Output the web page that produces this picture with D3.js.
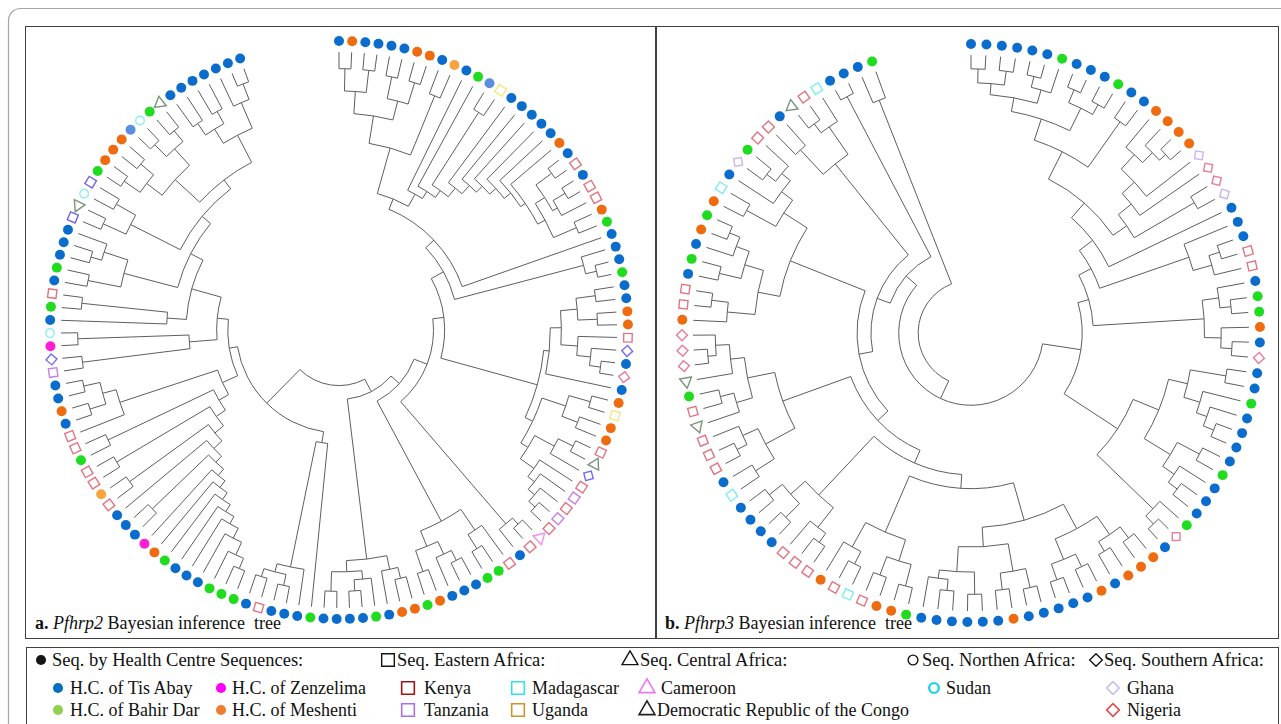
<!DOCTYPE html>
<html>
<head>
<meta charset="utf-8">
<script src="https://cdn.jsdelivr.net/npm/d3@7"></script>
<style>
body { margin: 0; background: #fff; }
text { font-family: "Liberation Serif", "Times New Roman", serif; fill: #111; }
</style>
</head>
<body>
<svg id="chart" width="1281" height="724"></svg>
<script>
// ---- leaf categories, clockwise from the top of each ring ----
var treeATypes = [
  "TA","ME","TA","TA","TA","TA","ME","ME","TA","MEl",
  "TA","BD","TAl","UG","TA","TA","TA","TA","TA","ME",
  "TA","KE","TA","KE","KE","ME","BD","TA","TA","TA",
  "BD","TA","TA","ME","ME","KE","DV","TA","NG","TA",
  "ME","UG","ME","ME","KE","CD","DV","KE","TZ","KE",
  "TZ","KE","CM","KE","TA","KE","BD","BD","TA","TA",
  "TA","ME","BD","ME","ME","TA","BD","TA","TA","TA",
  "TA","BD","TA","TA","TA","KE","TA","BD","BD","BD",
  "TA","TA","TA","BD","ME","ZE","TA","TA","TA","KE",
  "MEl","KE","KE","BD","KE","KE","TA","ME","TA","TA",
  "TZ","DV","ZE","SD","TA","BD","KE","TA","BD","TA",
  "TA","TA","SV","CD","SD","SV","BD","ME","ME","ME",
  "TAl","SD","BD","CD","TA","TA","TA","TA","TA","TA","TA"
];
var treeBTypes = [
  "TA","TA","TA","TA","TA","TA","BD","TA","TA","TA",
  "BD","TA","TA","ME","ME","ME","ME","GH","NG","NG",
  "GH","TA","TA","TA","KE","KE","TA","BD","BD","ME",
  "TA","NG","TA","TA","BD","TA","TA","TA","TA","BD",
  "TA","TA","TA","BD","NG","TA","ME","ME","ME","TA",
  "ME","TA","TA","TA","TA","TA","ME","TA","TA","TA",
  "TA","TA","TA","BD","ME","ME","KE","MG","KE","ME",
  "KE","KE","KE","TA","TA","TA","TA","MG","TA","KE",
  "KE","KE","CD","KE","BD","CD","NG","NG","NG","ME",
  "KE","KE","TA","BD","TA","ME","BD","ME","MG","TA",
  "GH","BD","KE","KE","TA","CD","KE","MG","TA","TA",
  "TA","BD"
];

// ---- topologies: "(child,child)depth", leaves are indices into the type arrays,
// depth is the distance of a node from the root (0) to the tips (1) ----
var aT1 = "((((0,1)0.94,(2,3)0.94)0.86,((4,5)0.93,(6,7)0.93)0.85)0.78,(8,9)0.91)0.68";
var aT2 = "(((20,21)0.95,((22,23)0.95,24)0.9)0.88,(25,26)0.93)0.84";
var aComb = "(10,(11,((12,13)0.93,(14,(15,(16,(17,(18,(19," + aT2 + ")0.81)0.79)0.76)0.73)0.7)0.66)0.62)0.59)0.56";
var aTop = "(" + aT1 + "," + aComb + ")0.51";
var aQ = "(28,(29,30)0.95)0.91";
var aR1 = "((((31,32)0.93,(33,34)0.93)0.86,(35,(36,(37,38)0.95)0.91)0.86)0.8,39)0.76";
var aR2 = "(((40,41)0.94,(42,43)0.92)0.86,(((44,45)0.94,46)0.88,(47,(48,(49,(50,51)0.95)0.92)0.89)0.86)0.8)0.77";
var aRmid = "(" + aR1 + "," + aR2 + ")0.74";
var aP = "((52,53)0.95,54)0.92";
var aC2 = "((55,(56,57)0.93)0.87,(((58,59)0.93,60)0.89,(61,62)0.92)0.84)0.78";
var aC1 = "(((63,64)0.92,65)0.88,((66,(67,68)0.94)0.9,(69,70)0.94)0.87)0.83";
var aRight = "((((((" + aTop + ",27)0.47," + aQ + ")0.43," + aRmid + ")0.38," + aP + ")0.34," + aC2 + ")0.29," + aC1 + ")0.25";
var aD = "(71,(72,((73,74)0.94,(75,76)0.93)0.9)0.87)0.41";
var aE1 = "(95,((96,97)0.94,(98,99)0.94)0.88)0.83";
var aE = "((((((((((((((77,78)0.93,79)0.89,80)0.84,81)0.8,82)0.77,83)0.74,84)0.71,85)0.68,(86,87)0.93)0.65,88)0.62,(89,90)0.93)0.58,(91,92)0.93)0.54,(93,94)0.92)0.5," + aE1 + ")0.46";
var aF = "((100,101)0.93,(102,103)0.94)0.54";
var aG0 = "(104,(105,106)0.93)0.62";
var aH = "((107,108)0.92,((109,110)0.93,111)0.89)0.8";
var aI = "((112,113)0.93,(114,115)0.92)0.84";
var aJ = "(((116,117)0.94,(118,119)0.93)0.87,((120,121)0.94,(122,123)0.93)0.88)0.8";
var aK = "(((124,125)0.9,(126,127)0.9)0.85,(128,(129,130)0.95)0.89)0.79";
var aG = "(" + aG0 + ",(" + aH + ",(" + aI + ",(" + aJ + "," + aK + ")0.68)0.64)0.6)0.55";
var aLeft = "(" + aD + ",(" + aE + ",(" + aF + "," + aG + ")0.44)0.4)0.37";
var treeATopology = "(" + aRight + "," + aLeft + ")0.2";

var bTop = "(((((0,1)0.95,(2,3)0.95)0.9,((4,5)0.95,6)0.91)0.86,((7,8)0.95,(9,10)0.94)0.9)0.81,(11,12)0.93)0.73";
var bMid = "((((13,(14,(15,16)0.95)0.92)0.87,17)0.8,18)0.74,(19,20)0.93)0.68";
var bRS4 = "(" + bTop + "," + bMid + ")0.62";
var bRS3 = "(" + bRS4 + ",21)0.55";
var bGb = "(22,((23,24)0.94,25)0.9)0.83";
var bRS2 = "(" + bRS3 + "," + bGb + ")0.49";
var bGc = "((26,(27,28)0.94)0.9,(29,(30,31)0.94)0.9)0.84";
var bRS = "(" + bRS2 + "," + bGc + ")0.44";
var bLR = "((((32,33)0.93,(34,(35,(36,37)0.94)0.9)0.86)0.8,((38,39)0.93,(40,(41,42)0.93)0.89)0.84)0.73,(43,(44,45)0.95)0.91)0.63";
var bRb = "(" + bRS + "," + bLR + ")0.4";
var bBR = "((((46,47)0.93,(48,49)0.92)0.88,((50,51)0.93,(52,53)0.94)0.88)0.8,(((54,55)0.94,(56,57)0.93)0.87,((58,59)0.94,((60,61)0.93,62)0.89)0.86)0.77)0.7";
var bBL1 = "(((63,64)0.94,(65,66)0.93)0.86,((67,68)0.93,69)0.88)0.78";
var bBL2 = "(((70,71)0.93,72)0.89,((73,74)0.94,(75,76)0.93)0.87)0.8";
var bML = "(((77,78)0.92,((79,80)0.94,81)0.9)0.84,((82,(83,84)0.93)0.88,(85,((86,87)0.95,88)0.92)0.87)0.82)0.72";
var bML2 = "(((89,(90,91)0.94)0.88,((92,93)0.93,(94,(95,96)0.94)0.9)0.85)0.78,((97,98)0.92,(99,((100,101)0.93,102)0.89)0.85)0.8)0.7";
var bTL = "((103,104)0.9,((105,106)0.94,107)0.9)0.78";
var bL6 = "(" + bBR + "," + bBL1 + ")0.56";
var bL5 = "(" + bL6 + "," + bBL2 + ")0.51";
var bL4 = "(" + bL5 + "," + bML + ")0.46";
var bL3 = "(" + bL4 + "," + bML2 + ")0.41";
var bL2 = "(" + bL3 + "," + bTL + ")0.36";
var bL1 = "(" + bL2 + ",(108,109)0.96)0.31";
var treeBTopology = "((" + bRb + "," + bL1 + ")0.26,(110,111)0.9)0.19";

var panelTitles = [["a. ", "Pfhrp2", " Bayesian inference  tree"], ["b. ", "Pfhrp3", " Bayesian inference  tree"]];

var legendHeaders = ["Seq. by Health Centre Sequences:", "Seq. Eastern Africa:", "Seq. Central Africa:", "Seq. Northen Africa:", "Seq. Southern Africa:"];
var legendCodes = ["TA", "BD", "ZE", "ME", "KE", "TZ", "MG", "UG", "CM", "CD", "SD", "GH", "NG"];
var legendLabels = ["H.C. of Tis Abay", "H.C. of Bahir Dar", "H.C. of Zenzelima", "H.C. of Meshenti",
  "Kenya", "Tanzania", "Madagascar", "Uganda", "Cameroon", "Democratic Republic of the Congo",
  "Sudan", "Ghana", "Nigeria"];

// ---- styles ----
var catStyle = {
  TA:  {shape: "circle", color: "#0a6ccc", filled: true},
  TAl: {shape: "circle", color: "#5c8ee0", filled: true},
  BD:  {shape: "circle", color: "#1fdc1f", filled: true},
  ME:  {shape: "circle", color: "#ef6b0f", filled: true},
  MEl: {shape: "circle", color: "#f8a33e", filled: true},
  ZE:  {shape: "circle", color: "#ff1ed2", filled: true},
  KE:  {shape: "square", color: "#e27583"},
  TZ:  {shape: "square", color: "#c97ee6"},
  SV:  {shape: "square", color: "#6f63ec"},
  MG:  {shape: "square", color: "#7deeee"},
  UG:  {shape: "square", color: "#f0e880"},
  CM:  {shape: "triangle", color: "#ef8fef"},
  CD:  {shape: "triangle", color: "#7a9478"},
  SD:  {shape: "circle", color: "#8ef0f0"},
  GH:  {shape: "diamond", color: "#cdb3ee"},
  NG:  {shape: "diamond", color: "#e87d98"},
  DV:  {shape: "diamond", color: "#6f6fee"}
};
var legendColor = {
  TA: "#0070c0", BD: "#92d050", ZE: "#ff00ff", ME: "#ed7d31",
  KE: "#a31515", TZ: "#a870e6", MG: "#33e0e8", UG: "#c8962a",
  CM: "#ee77ee", CD: "#222222", SD: "#22d4e0", GH: "#c9bde9", NG: "#e04a4a"
};
var symbolType = {circle: d3.symbolCircle, square: d3.symbolSquare, triangle: d3.symbolTriangle, diamond: d3.symbolSquare};
var treeSize = {circle: 78, openCircle: 58, square: 72, triangle: 62, diamond: 60};

var svg = d3.select("#chart");

// frames
svg.append("rect").attr("x", 8.5).attr("y", 8.5).attr("width", 1300).attr("height", 740)
  .attr("rx", 12).attr("fill", "none").attr("stroke", "#a6a6a6").attr("stroke-width", 1.2);
svg.append("rect").attr("x", 25.5).attr("y", 26.5).attr("width", 630).attr("height", 612)
  .attr("fill", "none").attr("stroke", "#404040");
svg.append("rect").attr("x", 656.5).attr("y", 26.5).attr("width", 622).attr("height", 612)
  .attr("fill", "none").attr("stroke", "#404040");
svg.append("rect").attr("x", 26.5).attr("y", 647.5).attr("width", 1252).attr("height", 80)
  .attr("fill", "none").attr("stroke", "#404040");

function parseTree(s) {
  var i = 0;
  function num() {
    var m = /^[0-9.]+/.exec(s.slice(i));
    if (!m) return null;
    i += m[0].length;
    return +m[0];
  }
  function node() {
    if (s[i] === "(") {
      i++;
      var kids = [];
      while (true) {
        kids.push(node());
        if (s[i] === ",") { i++; continue; }
        i++;
        break;
      }
      return {children: kids, depth: num()};
    }
    return {leaf: num(), depth: 1};
  }
  return node();
}

function drawTree(cfg) {
  var g = svg.append("g");
  var root = d3.hierarchy(parseTree(cfg.topology));
  var n = cfg.types.length;
  var angle = d3.scaleLinear().domain([0, n - 1]).range([0, 340]);
  var radius = d3.scaleLinear().domain([0, 1]).range([0, 278]);
  var markR = 289;

  root.eachAfter(function(d) {
    d.a = d.children ? d3.mean(d.children, function(c) { return c.a; }) : angle(d.data.leaf);
    d.r = radius(d.data.depth);
  });

  function pt(r, a) {
    var t = a * Math.PI / 180;
    return [cfg.cx + r * Math.sin(t), cfg.cy - r * Math.cos(t)];
  }

  var p = d3.path();
  root.descendants().forEach(function(d) {
    if (d.parent) {
      var s = pt(d.parent.r, d.a), e = pt(d.r, d.a);
      p.moveTo(s[0], s[1]);
      p.lineTo(e[0], e[1]);
    }
    if (d.children) {
      var a0 = d3.min(d.children, function(c) { return c.a; });
      var a1 = d3.max(d.children, function(c) { return c.a; });
      var s0 = pt(d.r, a0);
      p.moveTo(s0[0], s0[1]);
      p.arc(cfg.cx, cfg.cy, d.r, (a0 - 90) * Math.PI / 180, (a1 - 90) * Math.PI / 180, false);
    }
  });
  g.append("path").attr("d", p.toString()).attr("fill", "none")
    .attr("stroke", "#5e5e5e").attr("stroke-width", 1);

  g.selectAll("path.leaf").data(root.leaves()).join("path")
    .attr("class", "leaf")
    .attr("transform", function(d) {
      var st = catStyle[cfg.types[d.data.leaf]];
      var q = pt(markR, d.a);
      var rot = st.shape === "square" ? d.a : st.shape === "diamond" ? d.a + 45 : st.shape === "triangle" ? d.a - 90 : 0;
      return "translate(" + q[0] + "," + q[1] + ") rotate(" + rot + ")";
    })
    .attr("d", function(d) {
      var st = catStyle[cfg.types[d.data.leaf]];
      var size = st.shape === "circle" ? (st.filled ? treeSize.circle : treeSize.openCircle) : treeSize[st.shape];
      return d3.symbol(symbolType[st.shape], size)();
    })
    .attr("fill", function(d) { var st = catStyle[cfg.types[d.data.leaf]]; return st.filled ? st.color : "#fff"; })
    .attr("stroke", function(d) { var st = catStyle[cfg.types[d.data.leaf]]; return st.filled ? "none" : st.color; })
    .attr("stroke-width", 1.4);

  var t = svg.append("text").attr("x", cfg.titleX).attr("y", 629).attr("font-size", 18)
    .attr("xml:space", "preserve");
  t.append("tspan").attr("font-weight", "bold").text(cfg.title[0]);
  t.append("tspan").attr("font-style", "italic").text(cfg.title[1]);
  t.append("tspan").text(cfg.title[2]);
}

drawTree({topology: treeATopology, types: treeATypes, cx: 339, cy: 330, title: panelTitles[0], titleX: 35});
drawTree({topology: treeBTopology, types: treeBTypes, cx: 971, cy: 333, title: panelTitles[1], titleX: 665});

// ---- legend ----
var lg = svg.append("g");
var headerShape = ["circle", "square", "triangle", "openCircle", "diamond"];
var headerSym = [41, 388, 630, 913, 1096];
var headerTxt = [52, 397, 640, 922, 1104];
var legendSize = {circle: 80, square: 160, triangle: 110, openCircle: 75, diamond: 80};

function legendMark(x, y, shape, color, sw) {
  var type = shape === "openCircle" ? d3.symbolCircle : symbolType[shape];
  var filled = shape === "circle";
  lg.append("path")
    .attr("transform", "translate(" + x + "," + y + ")" + (shape === "diamond" ? " rotate(45)" : ""))
    .attr("d", d3.symbol(type, legendSize[shape])())
    .attr("fill", filled ? color : "#fff")
    .attr("stroke", filled ? "none" : color)
    .attr("stroke-width", sw || 1.4);
}

legendHeaders.forEach(function(h, i) {
  legendMark(headerSym[i], 660, headerShape[i], "#151515", 1.4);
  lg.append("text").attr("x", headerTxt[i]).attr("y", 666).attr("font-size", 18.5).text(h);
});

var itemSym = [58, 58, 221, 221, 408, 408, 518, 518, 647, 647, 934, 1113, 1113];
var itemTxt = [70, 70, 232, 232, 424, 424, 532, 532, 661, 657, 946, 1127, 1127];
var itemRow = [0, 1, 0, 1, 0, 1, 0, 1, 0, 1, 0, 0, 1];
var rowY = [688, 710];
legendCodes.forEach(function(code, i) {
  var st = catStyle[code];
  var shape = st.shape === "circle" && !st.filled ? "openCircle" : st.shape;
  legendMark(itemSym[i], rowY[itemRow[i]], shape, legendColor[code], code === "SD" ? 2.4 : 1.6);
  lg.append("text").attr("x", itemTxt[i]).attr("y", rowY[itemRow[i]] + 6).attr("font-size", 18)
    .text(legendLabels[i]);
});
</script>
</body>
</html>
